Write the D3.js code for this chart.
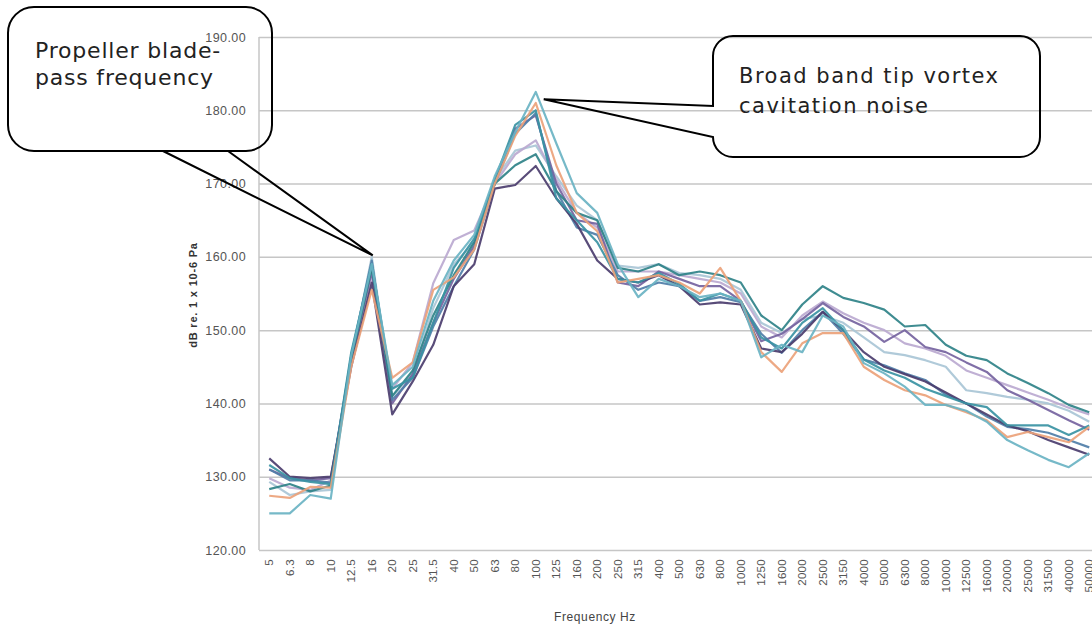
<!DOCTYPE html>
<html>
<head>
<meta charset="utf-8">
<script src="https://cdn.jsdelivr.net/npm/d3@7/dist/d3.min.js"></script>
<style>
  body { margin: 0; background: #fff; }
  svg { display: block; }
  .grid line { stroke: #c6c6c6; stroke-width: 1.5; }
  .grid .domain { display: none; }
  .ytick text { fill: #555; font-family: "Liberation Sans", sans-serif; font-size: 12.5px; letter-spacing: 0.4px; }
  .xtick text { fill: #555; font-family: "Liberation Sans", sans-serif; font-size: 11.5px; letter-spacing: 0.3px; }
  .xtick .domain, .xtick line { display: none; }
  .series { fill: none; stroke-width: 2.2; stroke-linejoin: round; opacity: 0.92; }
  .callout { fill: none; stroke: #000; stroke-width: 2; }
  .callout-text { fill: #222; font-family: "DejaVu Sans", sans-serif; }
</style>
</head>
<body>
<svg id="chart" width="1092" height="625"></svg>
<script>
/*
  Third-octave underwater noise spectra, several runs overlaid
  Two callouts point at the blade-pass tone and the cavitation hump
*/

// Frequency bands (Hz), one category per band
const frequencies = ['5', '6.3', '8', '10', '12.5', '16', '20', '25', '31.5', '40', '50', '63',
  '80', '100', '125', '160', '200', '250', '315', '400', '500', '630', '800', '1000', '1250',
  '1600', '2000', '2500', '3150', '4000', '5000', '6300', '8000', '10000', '12500', '16000',
  '20000', '25000', '31500', '40000', '50000'];

const yTicks = [120, 130, 140, 150, 160, 170, 180, 190];

// dB levels, one array per run
const runLightBlue = [129.3, 127.5, 128, 128.2, 146, 160, 141, 144, 153, 159, 162, 170.5, 174.5,
  175.2, 171, 167, 165, 158.8, 158.5, 159, 157.8, 157.5, 157, 155.5, 151, 149.6, 151.5, 152, 151,
  149, 147, 146.6, 145.9, 145, 141.8, 141.4, 140.9, 140.5, 140, 139, 137.5];
const runLavender = [129.8, 128.5, 128.2, 129.5, 146, 157.5, 142, 145.6, 156.4, 162.3, 163.6, 170,
  174, 175.9, 170.5, 166, 164, 158, 158, 158, 157.5, 157, 156.5, 155, 150.5, 149, 152, 153.9, 152.3,
  151, 150, 148.2, 147.5, 146.5, 144.5, 143.5, 142.5, 141.5, 140.5, 139.4, 138.5];
const runPurple = [131, 129.8, 129.5, 129.8, 146, 158, 140, 144, 151, 157, 161.5, 170, 177.5,
  179.3, 170, 165, 164.5, 156.5, 156, 158, 157, 156, 156, 154, 148.5, 149.5, 151.5, 153.7, 151.8,
  150.5, 148.4, 150, 147.7, 147, 145.6, 144.3, 141.8, 140.5, 139.1, 137.7, 136.4];
const runBlue = [131, 129.5, 129.5, 129.2, 146.5, 159.5, 140.5, 143.5, 150.5, 156, 161, 170, 176.8,
  179.6, 169, 164, 163, 157.5, 155.5, 156.5, 156, 154, 154.5, 153.8, 149.5, 146.9, 150, 152.5,
  149.5, 146, 145.2, 144.1, 143.2, 141.2, 140, 138.2, 136.8, 136.5, 136, 135, 134];
const runDarkTeal = [128.3, 129, 128, 128.8, 146, 158.5, 141, 144.5, 152, 157.5, 162, 170, 172.5,
  174, 169, 166, 165, 158.5, 158, 159, 157.5, 158, 157.5, 156.5, 152, 150, 153.5, 156, 154.4,
  153.7, 152.8, 150.5, 150.7, 148, 146.5, 145.9, 144.1, 142.8, 141.4, 139.8, 138.8];
const runDarkPurple = [132.5, 130, 129.8, 130, 145, 156.5, 138.5, 143, 148, 156, 159, 169.3, 169.8,
  172.4, 168, 164.5, 159.5, 157, 156.5, 157.5, 156, 153.5, 153.8, 153.5, 147.5, 147, 149.5, 152.5,
  150, 147, 145, 144, 143, 141.5, 140, 138.5, 137, 136.2, 135, 134, 133];
const runTeal = [131.6, 129.8, 129.3, 129, 147, 159, 142, 143.5, 151, 158.5, 162.5, 170.5, 178, 180,
  168, 165, 162, 157, 156.5, 157.8, 156.3, 154, 155, 154, 149, 147.5, 151, 153, 150, 146, 144.5,
  143.5, 142, 141, 140, 139.5, 137, 137, 137, 135.7, 137];
const runOrange = [127.4, 127.1, 128.6, 128.5, 145, 155.5, 143.5, 145.6, 155.5, 157.2, 161, 170,
  176.5, 181, 172.5, 166, 163.5, 156.5, 157, 157.5, 156.5, 155, 158.5, 154, 147, 144.3, 148.2,
  149.6, 149.6, 145, 143.2, 141.8, 141.1, 139.8, 138.8, 137.7, 135.4, 136.1, 135.4, 134.7, 136.8];
const runLightTeal = [125, 125, 127.5, 127, 146.5, 159, 142.5, 145, 154, 159.5, 163, 171, 177,
  182.5, 175.5, 168.7, 166, 159, 154.5, 157, 156, 154.5, 155, 154, 146.3, 148, 147, 152, 150.5,
  145.5, 144.1, 142.3, 139.8, 139.8, 139, 137.5, 135, 133.6, 132.3, 131.3, 133.2];

const runs = [
  { color: '#a9c6d6', values: runLightBlue },
  { color: '#bba9d0', values: runLavender },
  { color: '#7563a0', values: runPurple },
  { color: '#4f7ea8', values: runBlue },
  { color: '#2f8288', values: runDarkTeal },
  { color: '#4b3d6e', values: runDarkPurple },
  { color: '#3a93a3', values: runTeal },
  { color: '#eba27a', values: runOrange },
  { color: '#6ab3c3', values: runLightTeal }
];

// Callout texts
const bladeText = ['Propeller blade-', 'pass frequency'];
const vortexText = ['Broad band tip vortex', 'cavitation noise'];

/**
 * Dimensions. The plot runs on past the right edge, like the original crop
 */
const margin = { left: 259, top: 37 };
const BAND = 20.5;
const PLOT_W = BAND * frequencies.length;
const PLOT_B = 550;

const svg = d3.select('#chart');

/**
 * Scales
 */
const scale = {};
scale.x = d3.scaleBand()
  .domain(frequencies)
  .range([margin.left, margin.left + PLOT_W])
  .padding(0);

scale.y = d3.scaleLinear()
  .domain([120, 190])
  .range([PLOT_B, margin.top]);

const xMid = f => scale.x(f) + scale.x.bandwidth() / 2;

/**
 * Gridlines + y labels
 */
svg.append('g')
  .attr('class', 'grid ytick')
  .attr('transform', `translate(${margin.left}, 0)`)
  .call(d3.axisLeft(scale.y)
    .tickValues(yTicks)
    .tickSize(-PLOT_W)
    .tickPadding(13)
    .tickFormat(d3.format('.2f')));

// vertical axis line
svg.append('line')
  .attr('x1', margin.left).attr('x2', margin.left)
  .attr('y1', scale.y(190)).attr('y2', scale.y(120))
  .attr('stroke', '#c6c6c6').attr('stroke-width', 1.5);

/**
 * Category labels, rotated
 */
const xAxis = svg.append('g')
  .attr('class', 'xtick')
  .attr('transform', `translate(0, ${PLOT_B})`)
  .call(d3.axisBottom(scale.x).tickSize(0));

xAxis.selectAll('text')
  .attr('transform', 'rotate(-90)')
  .attr('text-anchor', 'end')
  .attr('x', -9)
  .attr('y', 0)
  .attr('dy', '0.35em');

/**
 * Axis titles
 */
svg.append('text')
  .attr('x', 595)
  .attr('y', 621)
  .attr('text-anchor', 'middle')
  .attr('fill', '#444')
  .style('font-family', '"Liberation Sans", sans-serif')
  .style('font-size', '12px')
  .style('letter-spacing', '0.6px')
  .text('Frequency Hz');

svg.append('text')
  .attr('transform', `translate(197, 295) rotate(-90)`)
  .attr('text-anchor', 'middle')
  .attr('fill', '#333')
  .style('font-family', '"Liberation Sans", sans-serif')
  .style('font-size', '11px')
  .style('font-weight', 'bold')
  .style('letter-spacing', '0.8px')
  .text('dB re. 1 x 10-6 Pa');

/**
 * Spectra
 */
const line = d3.line()
  .x((d, i) => xMid(frequencies[i]))
  .y(d => scale.y(d));

svg.append('g')
  .selectAll('path')
  .data(runs)
  .join('path')
  .attr('class', 'series')
  .attr('stroke', d => d.color)
  .attr('d', d => line(d.values));

/**
 * Callouts. Tips sit on the 16 Hz tone and the 100 Hz peak
 */
const bladeTip = [xMid('16') + 1, scale.y(160.2)];
const vortexTip = [xMid('100') + 8, scale.y(181.5)];

// left box: rounded rect + two tail lines to the tip
const left = { x0: 8, y0: 7, x1: 272, y1: 151, r: 26 };
svg.append('rect')
  .attr('class', 'callout')
  .attr('x', left.x0).attr('y', left.y0)
  .attr('width', left.x1 - left.x0).attr('height', left.y1 - left.y0)
  .attr('rx', left.r);

svg.append('path')
  .attr('class', 'callout')
  .attr('stroke-width', 1.6)
  .attr('d', `M163,${left.y1} L${bladeTip[0]},${bladeTip[1]} L228,${left.y1}`);

// right box: tail enters on its left side
const right = { x0: 713, y0: 36, x1: 1040, y1: 157, r: 20 };
const rp = d3.path();
rp.moveTo(right.x0 + right.r, right.y0);
rp.lineTo(right.x1 - right.r, right.y0);
rp.arcTo(right.x1, right.y0, right.x1, right.y0 + right.r, right.r);
rp.lineTo(right.x1, right.y1 - right.r);
rp.arcTo(right.x1, right.y1, right.x1 - right.r, right.y1, right.r);
rp.lineTo(right.x0 + right.r, right.y1);
rp.arcTo(right.x0, right.y1, right.x0, right.y1 - right.r, right.r);
rp.lineTo(vortexTip[0], vortexTip[1]);
rp.lineTo(right.x0, 106);
rp.lineTo(right.x0, right.y0 + right.r);
rp.arcTo(right.x0, right.y0, right.x0 + right.r, right.y0, right.r);
rp.closePath();

svg.append('path')
  .attr('class', 'callout')
  .attr('d', rp.toString());

svg.append('g')
  .selectAll('text')
  .data(bladeText)
  .join('text')
  .attr('class', 'callout-text')
  .attr('x', 35)
  .attr('y', (d, i) => 58 + i * 27)
  .style('font-size', '22px')
  .style('letter-spacing', '0.8px')
  .text(d => d);

svg.append('g')
  .selectAll('text')
  .data(vortexText)
  .join('text')
  .attr('class', 'callout-text')
  .attr('x', 739)
  .attr('y', (d, i) => 83 + i * 30)
  .style('font-size', '21px')
  .style('letter-spacing', '1.5px')
  .text(d => d);
</script>
</body>
</html>
